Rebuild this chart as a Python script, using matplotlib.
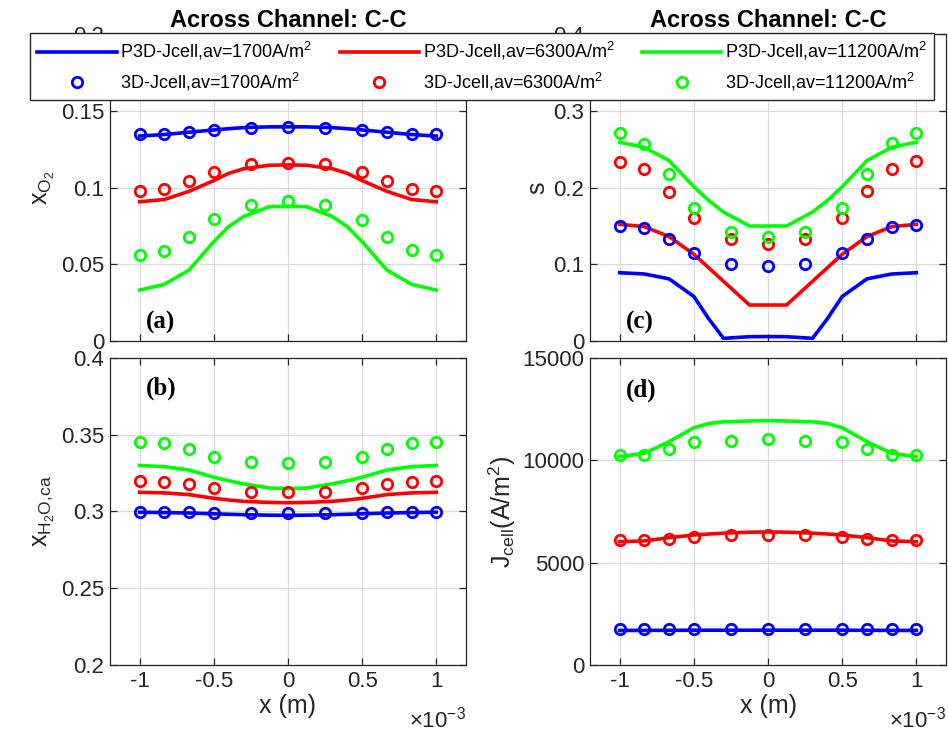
import numpy as np
import matplotlib.pyplot as plt
from matplotlib.ticker import FuncFormatter

plt.rcParams['font.family'] = ['Liberation Sans', 'DejaVu Sans']
plt.rcParams['mathtext.default'] = 'regular'
plt.rcParams['axes.unicode_minus'] = False

# positions across the channel, in units of 1e-3 m
x_line = [-1, -0.833, -0.667, -0.5, -0.4, -0.3, -0.125, 0, 0.125, 0.3, 0.4, 0.5, 0.667, 0.833, 1]
x_pts = [-1, -0.833, -0.667, -0.5, -0.25, 0, 0.25, 0.5, 0.667, 0.833, 1]

labels_p3d = ['P3D-Jcell,av=1700A/m$^2$', 'P3D-Jcell,av=6300A/m$^2$', 'P3D-Jcell,av=11200A/m$^2$']
labels_3d = ['3D-Jcell,av=1700A/m$^2$', '3D-Jcell,av=6300A/m$^2$', '3D-Jcell,av=11200A/m$^2$']
colors = ['#0000ff', '#ff0000', '#00ff00']

# (a) oxygen mole fraction
xo2_p3d_1700 = [0.1335, 0.1345, 0.1360, 0.1375, 0.1383, 0.1390, 0.1395, 0.1395, 0.1395, 0.1390, 0.1383, 0.1375, 0.1360, 0.1345, 0.1335]
xo2_p3d_6300 = [0.0907, 0.0922, 0.0975, 0.1045, 0.1092, 0.1122, 0.1145, 0.1147, 0.1145, 0.1122, 0.1092, 0.1045, 0.0975, 0.0922, 0.0907]
xo2_p3d_11200 = [0.0332, 0.0369, 0.0462, 0.0647, 0.0745, 0.0810, 0.0875, 0.0877, 0.0875, 0.0810, 0.0745, 0.0647, 0.0462, 0.0369, 0.0332]
xo2_3d_1700 = [0.1349, 0.1350, 0.1360, 0.1375, 0.1390, 0.1396, 0.1390, 0.1375, 0.1360, 0.1350, 0.1349]
xo2_3d_6300 = [0.0979, 0.0988, 0.1042, 0.1103, 0.1151, 0.1162, 0.1151, 0.1100, 0.1040, 0.0992, 0.0979]
xo2_3d_11200 = [0.0560, 0.0588, 0.0676, 0.0793, 0.0886, 0.0912, 0.0886, 0.0790, 0.0680, 0.0590, 0.0560]

# (b) water mole fraction, cathode
h2o_p3d_1700 = [0.2995, 0.2993, 0.2990, 0.2985, 0.2982, 0.2979, 0.2976, 0.2975, 0.2976, 0.2979, 0.2982, 0.2985, 0.2990, 0.2993, 0.2995]
h2o_p3d_6300 = [0.3125, 0.3121, 0.3110, 0.3086, 0.3075, 0.3066, 0.3059, 0.3057, 0.3059, 0.3066, 0.3075, 0.3086, 0.3110, 0.3121, 0.3125]
h2o_p3d_11200 = [0.3300, 0.3292, 0.3270, 0.3223, 0.3200, 0.3180, 0.3153, 0.3149, 0.3153, 0.3180, 0.3200, 0.3223, 0.3270, 0.3292, 0.3300]
h2o_3d_1700 = [0.2999, 0.2999, 0.2995, 0.2991, 0.2987, 0.2987, 0.2987, 0.2991, 0.2995, 0.2999, 0.2999]
h2o_3d_6300 = [0.3199, 0.3190, 0.3177, 0.3151, 0.3129, 0.3129, 0.3129, 0.3151, 0.3177, 0.3190, 0.3199]
h2o_3d_11200 = [0.3455, 0.3444, 0.3407, 0.3357, 0.3320, 0.3314, 0.3320, 0.3357, 0.3407, 0.3444, 0.3455]

# (c) liquid saturation
s_p3d_1700 = [0.0890, 0.0873, 0.0810, 0.0580, 0.0290, 0.0035, 0.0056, 0.0058, 0.0056, 0.0035, 0.0290, 0.0580, 0.0810, 0.0873, 0.0890]
s_p3d_6300 = [0.1520, 0.1490, 0.1360, 0.1130, 0.0954, 0.0778, 0.0469, 0.0469, 0.0469, 0.0778, 0.0954, 0.1130, 0.1360, 0.1490, 0.1520]
s_p3d_11200 = [0.2589, 0.2524, 0.2350, 0.2010, 0.1830, 0.1680, 0.1498, 0.1498, 0.1498, 0.1680, 0.1830, 0.2010, 0.2350, 0.2524, 0.2589]
s_3d_1700 = [0.1498, 0.1477, 0.1329, 0.1143, 0.1003, 0.0977, 0.1003, 0.1150, 0.1330, 0.1490, 0.1510]
s_3d_6300 = [0.2328, 0.2237, 0.1946, 0.1599, 0.1325, 0.1264, 0.1325, 0.1600, 0.1950, 0.2240, 0.2340]
s_3d_11200 = [0.2706, 0.2567, 0.2172, 0.1737, 0.1424, 0.1360, 0.1424, 0.1737, 0.2170, 0.2580, 0.2710]

# (d) local current density
j_p3d_1700 = [1690, 1690, 1695, 1700, 1700, 1700, 1700, 1700, 1700, 1700, 1700, 1700, 1695, 1690, 1690]
j_p3d_6300 = [6025, 6060, 6220, 6352, 6400, 6440, 6490, 6499, 6490, 6440, 6400, 6352, 6220, 6060, 6025]
j_p3d_11200 = [10178, 10343, 10911, 11590, 11800, 11880, 11922, 11938, 11922, 11880, 11800, 11590, 10911, 10343, 10178]
j_3d_1700 = [1760, 1760, 1765, 1770, 1775, 1780, 1775, 1770, 1765, 1760, 1760]
j_3d_6300 = [6100, 6100, 6180, 6270, 6340, 6370, 6340, 6270, 6180, 6100, 6100]
j_3d_11200 = [10250, 10260, 10540, 10910, 10960, 11040, 10960, 10910, 10540, 10260, 10250]

panels = [
    ('(a)', 'x$_{O_2}$', (0, 0.2), [0, 0.05, 0.1, 0.15, 0.2],
     [xo2_p3d_1700, xo2_p3d_6300, xo2_p3d_11200], [xo2_3d_1700, xo2_3d_6300, xo2_3d_11200], 0.06),
    ('(b)', 'x$_{H_2O{,}ca}$', (0.2, 0.4), [0.2, 0.25, 0.3, 0.35, 0.4],
     [h2o_p3d_1700, h2o_p3d_6300, h2o_p3d_11200], [h2o_3d_1700, h2o_3d_6300, h2o_3d_11200], 0.90),
    ('(c)', 's', (0, 0.4), [0, 0.1, 0.2, 0.3, 0.4],
     [s_p3d_1700, s_p3d_6300, s_p3d_11200], [s_3d_1700, s_3d_6300, s_3d_11200], 0.06),
    ('(d)', 'J$_{cell}$(A/m$^2$)', (0, 15000), [0, 5000, 10000, 15000],
     [j_p3d_1700, j_p3d_6300, j_p3d_11200], [j_3d_1700, j_3d_6300, j_3d_11200], 0.895),
]
# axes rectangles in figure fraction: a, b (left column), c, d (right column)
rects = [[0.116, 0.5354, 0.3755, 0.4183], [0.116, 0.094, 0.3755, 0.4183],
         [0.6224, 0.5354, 0.3755, 0.4183], [0.6224, 0.094, 0.3755, 0.4183]]

fig = plt.figure(figsize=(9.48, 7.34), dpi=100)
xl = np.array(x_line) * 1e-3
xp = np.array(x_pts) * 1e-3
dark = '#262626'
handles = []

for i, (tag, ylabel, ylim, yticks, lines, pts, ty) in enumerate(panels):
    ax = fig.add_axes(rects[i])
    for c, yl, yp in zip(colors, lines, pts):
        h1, = ax.plot(xl, yl, color=c, lw=2.6, zorder=3)
        h2, = ax.plot(xp, yp, ls='none', marker='o', ms=7.5, mfc='none', mec=c, mew=2.0, zorder=4)
        if i == 0:
            handles += [h1, h2]
    ax.set_xlim(-1.2e-3, 1.2e-3)
    ax.set_ylim(*ylim)
    ax.set_xticks([-1e-3, -0.5e-3, 0, 0.5e-3, 1e-3])
    ax.set_yticks(yticks)
    ax.xaxis.set_major_formatter(FuncFormatter(lambda v, p: '%g' % round(v * 1e3, 3)))
    ax.yaxis.set_major_formatter(FuncFormatter(lambda v, p: '%g' % v))
    ax.grid(True, color='#dcdcdc', lw=0.9)
    ax.set_axisbelow(True)
    ax.tick_params(direction='in', top=True, right=True, length=5, width=0.9,
                   labelsize=16, colors=dark, pad=4)
    for sp in ax.spines.values():
        sp.set_color(dark)
        sp.set_linewidth(0.9)
    ax.set_ylabel(ylabel, fontsize=18, color=dark, labelpad=3)
    ax.text(0.10, ty, tag, transform=ax.transAxes, fontsize=18, fontweight='bold',
            family='Liberation Serif', va='center', ha='left')
    if i in (0, 2):
        ax.set_title('Across Channel: C-C', fontsize=17, fontweight='bold', pad=5)
        ax.tick_params(labelbottom=False)
    else:
        ax.set_xlabel('x (m)', fontsize=18, color=dark, labelpad=2)
        ax.text(1.0, -0.135, r'$\times$10$^{-3}$', transform=ax.transAxes,
                ha='right', va='top', fontsize=16, color=dark)

leg_labels = []
for a, b in zip(labels_p3d, labels_3d):
    leg_labels += [a, b]
fig.legend(handles, leg_labels, ncol=3, loc='upper left',
           bbox_to_anchor=(30 / 948, 1 - 33 / 734), borderaxespad=0,
           fontsize=13, handlelength=4.4, handletextpad=0.2, columnspacing=1.5,
           borderpad=0.4, fancybox=False, edgecolor='#262626', framealpha=1,
           labelspacing=0.45)

fig.savefig('out.png', dpi=100)
